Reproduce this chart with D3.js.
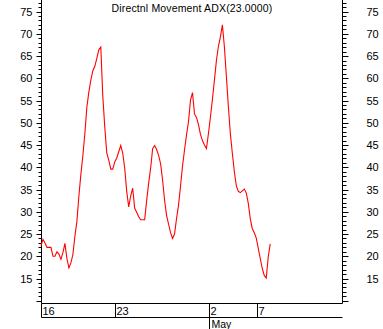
<!DOCTYPE html>
<html>
<head>
<meta charset="utf-8">
<script src="https://cdn.jsdelivr.net/npm/d3@7"></script>
<style>
  body { margin: 0; background: #fff; }
  svg { display: block; font-family: "Liberation Sans", Arial, sans-serif; }
</style>
</head>
<body>
<svg id="chart" width="383" height="329"></svg>
<script>
// ADX values, one per bar
const adxValues = [
    22.4, 23.8, 23.0, 22.0, 22.0, 22.0, 20.0, 20.0, 21.0, 20.5,
    19.3, 20.8, 22.9, 19.5, 17.4, 18.5, 20.4, 24.5, 27.8, 33.5,
    38.4, 42.6, 47.6, 53.5, 56.9, 59.6, 61.7, 62.7, 64.5, 66.4,
    67.0, 56.0, 49.0, 43.2, 41.6, 39.6, 39.6, 41.2, 42.1, 43.5,
    44.9, 43.2, 39.8, 34.6, 31.1, 33.6, 35.3, 30.8, 29.9, 28.9,
    28.2, 28.2, 28.2, 32.5, 36.4, 39.8, 44.2, 44.9, 44.0, 42.7,
    40.8, 37.1, 32.6, 29.2, 27.2, 25.3, 24.0, 25.0, 28.5, 31.5,
    35.8, 40.3, 43.9, 47.3, 50.3, 55.1, 56.8, 52.0, 51.2, 49.6,
    47.4, 46.0, 45.0, 44.2, 47.6, 51.3, 55.3, 59.6, 64.0, 67.2,
    69.3, 72.0, 67.1, 60.4, 53.6, 47.5, 43.1, 39.0, 35.8, 34.6,
    34.3, 34.7, 35.1, 34.2, 31.9, 28.4, 26.2, 25.3, 24.1, 21.8,
    19.5, 17.3, 15.7, 15.1, 19.9, 22.8
];
// day labels and the bar where each day starts
const dayLabels = ["16", "23", "2", "7"];
const dayBars = [0, 37.3, 84.5, 108.5];
const monthLabels = ["May"];
const monthBars = [84.5];
const totalBars = 151;
const yTicks = [15, 20, 25, 30, 35, 40, 45, 50, 55, 60, 65, 70, 75];
const title = "Directnl Movement ADX(23.0000)";

const svg = d3.select("#chart");
const plot = { left: 41, right: 342, top: 0, bottom: 303 };

const x = d3.scaleLinear().domain([0, totalBars]).range([plot.left, plot.right]);
const y = d3.scaleLinear().domain([9.5, 77.6]).range([plot.bottom, plot.top]);

const allTicks = d3.range(10, 78, 1);

// left axis
const gL = svg.append("g").attr("transform", `translate(${plot.left + 0.5},0.5)`);
gL.append("line").attr("y1", plot.top - 1).attr("y2", plot.bottom).attr("stroke", "#000");
gL.selectAll("line.tk").data(allTicks).enter().append("line")
    .attr("class", "tk")
    .attr("x1", d => d % 5 === 0 ? -5 : -3).attr("x2", 0)
    .attr("y1", d => Math.round(y(d))).attr("y2", d => Math.round(y(d)))
    .attr("stroke", "#000");
gL.selectAll("text").data(yTicks).enter().append("text")
    .attr("x", -9).attr("y", d => Math.round(y(d)))
    .attr("dy", "0.36em").attr("text-anchor", "end")
    .attr("font-size", "11px").text(d => d);

// right axis
const gR = svg.append("g").attr("transform", `translate(${plot.right + 0.5},0.5)`);
gR.append("line").attr("y1", plot.top - 1).attr("y2", plot.bottom).attr("stroke", "#000");
gR.selectAll("line.tk").data(allTicks).enter().append("line")
    .attr("class", "tk")
    .attr("x1", 0).attr("x2", d => d % 5 === 0 ? 6 : 4)
    .attr("y1", d => Math.round(y(d))).attr("y2", d => Math.round(y(d)))
    .attr("stroke", "#000");
gR.selectAll("text").data(yTicks).enter().append("text")
    .attr("x", 24).attr("y", d => Math.round(y(d)))
    .attr("dy", "0.36em").attr("text-anchor", "start")
    .attr("font-size", "11px").text(d => d);

// bottom date rows
const gB = svg.append("g").attr("transform", "translate(0.5,0.5)");
gB.append("line").attr("x1", plot.left).attr("x2", plot.right)
    .attr("y1", plot.bottom).attr("y2", plot.bottom).attr("stroke", "#000");
gB.append("line").attr("x1", plot.left).attr("x2", plot.right)
    .attr("y1", plot.bottom + 14).attr("y2", plot.bottom + 14).attr("stroke", "#000");
gB.selectAll("line.day").data(dayBars).enter().append("line")
    .attr("class", "day")
    .attr("x1", d => Math.round(x(d))).attr("x2", d => Math.round(x(d)))
    .attr("y1", plot.bottom).attr("y2", plot.bottom + 14).attr("stroke", "#000");
gB.selectAll("text.day").data(dayLabels).enter().append("text")
    .attr("class", "day")
    .attr("x", (d, i) => Math.round(x(dayBars[i])) + 1)
    .attr("y", plot.bottom + 11)
    .attr("font-size", "11px").text(d => d);
gB.selectAll("line.mon").data(monthBars).enter().append("line")
    .attr("class", "mon")
    .attr("x1", d => Math.round(x(d))).attr("x2", d => Math.round(x(d)))
    .attr("y1", plot.bottom + 14).attr("y2", 329).attr("stroke", "#000");
gB.selectAll("text.mon").data(monthLabels).enter().append("text")
    .attr("class", "mon")
    .attr("x", (d, i) => Math.round(x(monthBars[i])) + 2)
    .attr("y", plot.bottom + 24)
    .attr("font-size", "10.5px").text(d => d);

// title
svg.append("text")
    .attr("x", 192).attr("y", 12)
    .attr("text-anchor", "middle")
    .attr("font-size", "10.5px")
    .attr("letter-spacing", "0.15px")
    .text(title);

// ADX line
const line = d3.line()
    .x((d, i) => x(i))
    .y(d => y(d));
svg.append("path")
    .datum(adxValues)
    .attr("fill", "none")
    .attr("stroke", "#ff0000")
    .attr("stroke-width", 1.1)
    .attr("d", line);
</script>
</body>
</html>
